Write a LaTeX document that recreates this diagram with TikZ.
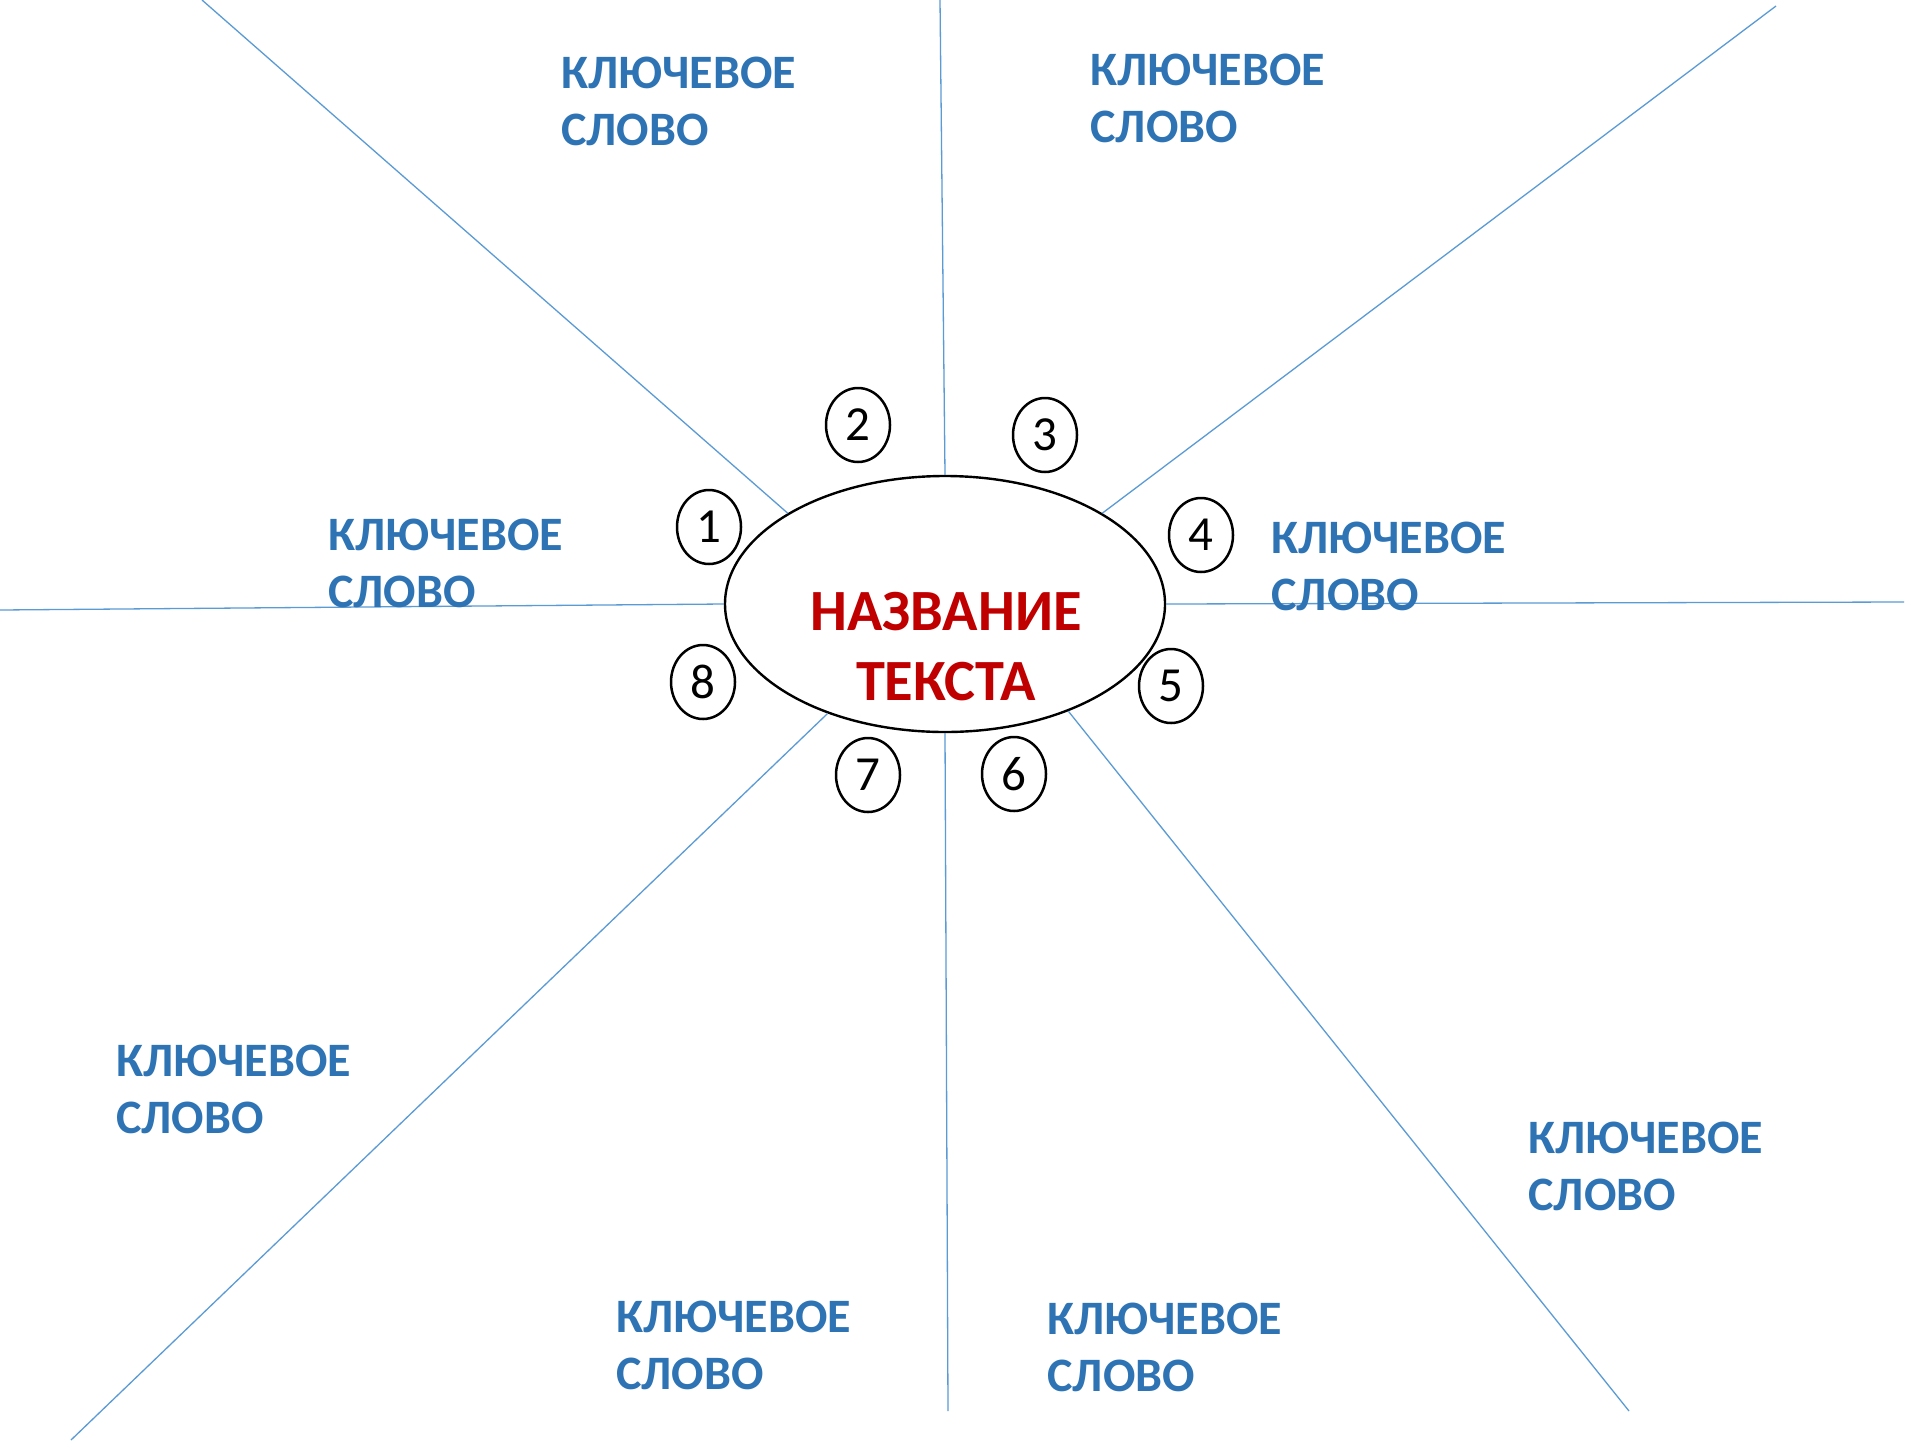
\documentclass[tikz,border=0pt]{standalone}
\usepackage{fontspec}
\setmainfont{Carlito}
\usetikzlibrary{shapes.geometric}
\definecolor{rayblue}{HTML}{5B9BD5}
\definecolor{wordblue}{HTML}{2E74B5}
\definecolor{titlered}{HTML}{C00000}
\begin{document}
\begin{tikzpicture}[x=0.5pt,y=-0.5pt,
  ray/.style={draw=rayblue,line width=0.65pt},
  keyword/.style={anchor=west,align=left,inner sep=0pt,text=wordblue,
    font=\fontsize{24}{28.5}\selectfont\bfseries},
  numcirc/.style={draw=black,ellipse,line width=1.25pt,inner sep=0pt,
    minimum width=32pt,minimum height=37pt,font=\fontsize{24.5}{28}\selectfont},
  titleshape/.style={draw=black,ellipse,line width=1.2pt,inner sep=0pt,
    minimum width=220pt,minimum height=128pt},
  titletext/.style={align=center,inner sep=0pt,text=titlered,
    font=\fontsize{29.2}{35}\selectfont\bfseries}]
\useasboundingbox (0,0) rectangle (1920,1440);
\fill[white] (0,0) rectangle (1920,1440);

% outer ends of the rays
\coordinate (o1) at (202,0);
\coordinate (o2) at (940,0);
\coordinate (o3) at (1776,6);
\coordinate (o4) at (1904,602);
\coordinate (o5) at (1629,1411);
\coordinate (o6) at (948,1411);
\coordinate (o7) at (71,1440);
\coordinate (o8) at (0,610);

\node[titleshape] (title) at (945,604) {};
\node[titletext] (tt) at (946,647) {НАЗВАНИЕ\\ТЕКСТА};

\draw[ray] (o1) -- (title.150);
\draw[ray] (o2) -- (title.90);
\draw[ray] (o3) -- (title.30);
\draw[ray] (o4) -- (title.0);
\draw[ray] (o5) -- (title.-41.6);
\draw[ray] (o6) -- (title.-90);
\draw[ray] (o7) -- (title.223.5);
\draw[ray] (o8) -- (title.180);

\node[numcirc] (n1) at (709,527) {1};
\node[numcirc] (n2) at (858,425) {2};
\node[numcirc] (n3) at (1045,435) {3};
\node[numcirc] (n4) at (1201,535) {4};
\node[numcirc] (n5) at (1171,686) {5};
\node[numcirc] (n6) at (1014,774) {6};
\node[numcirc] (n7) at (868,775) {7};
\node[numcirc] (n8) at (703,682) {8};

\node[keyword] (kA) at (561,101) {КЛЮЧЕВОЕ\\СЛОВО};
\node[keyword] (kB) at (1090,98) {КЛЮЧЕВОЕ\\СЛОВО};
\node[keyword] (kC) at (328,563) {КЛЮЧЕВОЕ\\СЛОВО};
\node[keyword] (kD) at (1271,566) {КЛЮЧЕВОЕ\\СЛОВО};
\node[keyword] (kE) at (116,1089) {КЛЮЧЕВОЕ\\СЛОВО};
\node[keyword] (kF) at (1528,1166) {КЛЮЧЕВОЕ\\СЛОВО};
\node[keyword] (kG) at (616,1345) {КЛЮЧЕВОЕ\\СЛОВО};
\node[keyword] (kH) at (1047,1347) {КЛЮЧЕВОЕ\\СЛОВО};
\end{tikzpicture}
\end{document}
